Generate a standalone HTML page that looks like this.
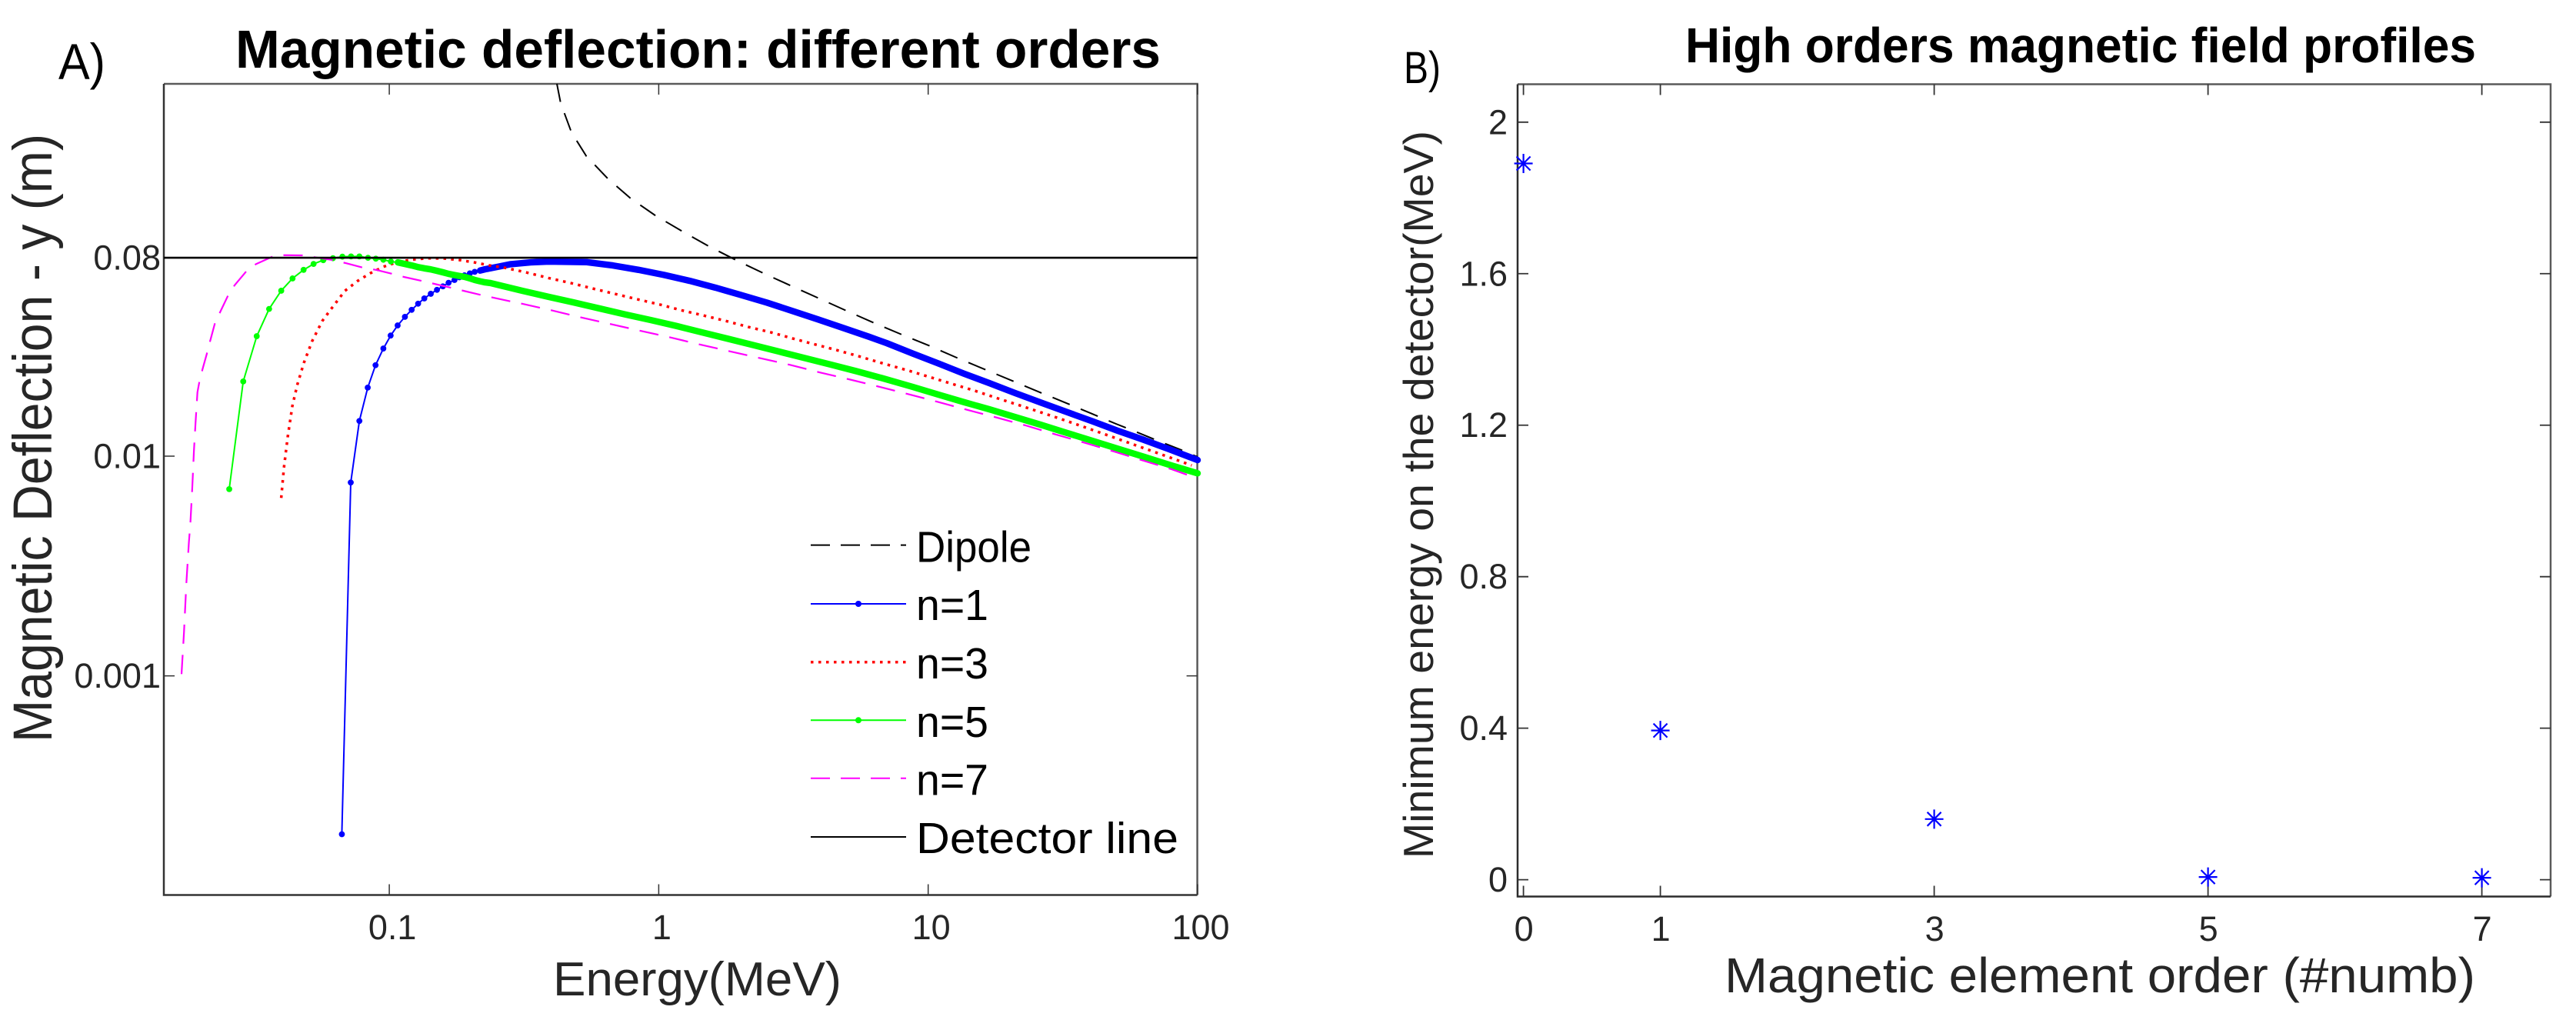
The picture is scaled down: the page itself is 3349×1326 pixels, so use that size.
<!DOCTYPE html>
<html lang="en">
<head>
<meta charset="utf-8">
<title>Magnetic deflection charts</title>
<style>
html,body{margin:0;padding:0;background:#fff;}
svg{display:block;}
text{font-family:"Liberation Sans",sans-serif;}
</style>
</head>
<body>
<svg id="fig" xmlns="http://www.w3.org/2000/svg" width="3349" height="1326" viewBox="0 0 3349 1326">
  <rect x="0" y="0" width="3349" height="1326" fill="#fff"/>

  <text x="76" y="103" font-size="66" fill="#000" textLength="61" lengthAdjust="spacingAndGlyphs">A)</text>
  <text x="306" y="88" font-size="70" font-weight="bold" fill="#000" textLength="1203" lengthAdjust="spacingAndGlyphs">Magnetic deflection: different orders</text>
  <text x="67" y="965" transform="rotate(-90 67 965)" font-size="71" fill="#262626" textLength="791" lengthAdjust="spacingAndGlyphs">Magnetic Deflection - y (m)</text>
  <text x="719" y="1294" font-size="62" fill="#262626" textLength="375" lengthAdjust="spacingAndGlyphs">Energy(MeV)</text>

  <text x="1825" y="108" font-size="58" fill="#000" textLength="48" lengthAdjust="spacingAndGlyphs">B)</text>
  <text x="2191" y="81" font-size="64" font-weight="bold" fill="#000" textLength="1028" lengthAdjust="spacingAndGlyphs">High orders magnetic field profiles</text>
  <text x="1863" y="1116" transform="rotate(-90 1863 1116)" font-size="55" fill="#262626" textLength="946" lengthAdjust="spacingAndGlyphs">Minimum energy on the detector(MeV)</text>
  <text x="2242" y="1290" font-size="64" fill="#262626" textLength="976" lengthAdjust="spacingAndGlyphs">Magnetic element order (#numb)</text>

  <g id="plotA"></g>
  <g id="plotB"></g>

  <g>
    <g>
      <line x1="1054" y1="708.6" x2="1178" y2="708.6" stroke="#000" stroke-width="2" stroke-dasharray="25 14"/>
      <text x="1191" y="730.6" font-size="57" fill="#000" textLength="150" lengthAdjust="spacingAndGlyphs">Dipole</text>
    </g>
    <g>
      <line x1="1054" y1="785" x2="1178" y2="785" stroke="#0000ff" stroke-width="2"/>
      <circle cx="1116" cy="785" r="4" fill="#0000ff"/>
      <text x="1191" y="806" font-size="57" fill="#000" textLength="94" lengthAdjust="spacingAndGlyphs">n=1</text>
    </g>
    <g>
      <line x1="1054" y1="860.8" x2="1178" y2="860.8" stroke="#ff0000" stroke-width="3.5" stroke-dasharray="3.5 6.5"/>
      <text x="1191" y="882" font-size="57" fill="#000" textLength="94" lengthAdjust="spacingAndGlyphs">n=3</text>
    </g>
    <g>
      <line x1="1054" y1="936.3" x2="1178" y2="936.3" stroke="#00ff00" stroke-width="2"/>
      <circle cx="1116" cy="936.3" r="4" fill="#00ff00"/>
      <text x="1191" y="958" font-size="57" fill="#000" textLength="94" lengthAdjust="spacingAndGlyphs">n=5</text>
    </g>
    <g>
      <line x1="1054" y1="1011.7" x2="1178" y2="1011.7" stroke="#ff00ff" stroke-width="2" stroke-dasharray="25 14"/>
      <text x="1191" y="1033.7" font-size="57" fill="#000" textLength="94" lengthAdjust="spacingAndGlyphs">n=7</text>
    </g>
    <g>
      <line x1="1054" y1="1088" x2="1178" y2="1088" stroke="#000" stroke-width="2"/>
      <text x="1191" y="1109" font-size="57" fill="#000" textLength="341" lengthAdjust="spacingAndGlyphs">Detector line</text>
    </g>
  </g>
</svg>

<script>
// Panel A: values are log10(energy / MeV) and log10(deflection / m).
const dipoleLogE = [-0.378,-0.364,-0.324,-0.269,-0.187,-0.104,-0.013,0.084,0.185,0.286,0.388,0.492,0.595,0.696,0.800,0.903,1.007,1.110,1.214,1.314,1.414,1.512,1.604,1.697,1.785,1.864,1.942,2.000];
const dipoleLogY = [-0.305,-0.393,-0.526,-0.634,-0.739,-0.827,-0.904,-0.974,-1.044,-1.107,-1.167,-1.225,-1.282,-1.338,-1.394,-1.447,-1.499,-1.554,-1.607,-1.658,-1.709,-1.758,-1.805,-1.853,-1.896,-1.936,-1.973,-2.004];

const n1LogE = [-1.176,-1.143,-1.111,-1.080,-1.051,-1.022,-0.995,-0.969,-0.942,-0.917,-0.893,-0.870,-0.846,-0.823,-0.801,-0.780,-0.758,-0.740,-0.721,-0.701,-0.683,-0.663,-0.644,-0.625,-0.589,-0.549,-0.475,-0.409,-0.267,-0.170,-0.075,0.019,0.115,0.210,0.304,0.401,0.496,0.590,0.686,0.781,0.847,0.943,1.038,1.132,1.228,1.323,1.418,1.514,1.609,1.703,1.799,1.894,2.000];
const n1LogY = [-3.721,-2.120,-1.840,-1.688,-1.586,-1.510,-1.451,-1.405,-1.366,-1.334,-1.306,-1.282,-1.261,-1.243,-1.227,-1.211,-1.198,-1.186,-1.177,-1.168,-1.161,-1.155,-1.149,-1.145,-1.136,-1.126,-1.118,-1.114,-1.117,-1.132,-1.152,-1.175,-1.202,-1.233,-1.266,-1.301,-1.339,-1.377,-1.417,-1.457,-1.486,-1.533,-1.578,-1.624,-1.668,-1.713,-1.756,-1.799,-1.841,-1.884,-1.925,-1.968,-2.018];

const n3LogE = [-1.401,-1.391,-1.377,-1.360,-1.341,-1.317,-1.287,-1.249,-1.217,-1.165,-1.117,-1.070,-1.022,-0.970,-0.913,-0.856,-0.798,-0.741,-0.684,-0.627,-0.570,-0.491,-0.409,-0.327,-0.245,-0.161,-0.079,0.004,0.085,0.167,0.251,0.333,0.415,0.496,0.578,0.660,0.742,0.824,0.931,1.012,1.094,1.175,1.256,1.337,1.417,1.498,1.578,1.657,1.737,1.817,1.897,1.978];
const n3LogY = [-2.190,-2.054,-1.914,-1.773,-1.674,-1.575,-1.478,-1.385,-1.332,-1.248,-1.202,-1.167,-1.138,-1.117,-1.105,-1.099,-1.100,-1.107,-1.118,-1.132,-1.143,-1.164,-1.189,-1.212,-1.237,-1.262,-1.286,-1.310,-1.336,-1.360,-1.385,-1.412,-1.436,-1.464,-1.491,-1.517,-1.545,-1.575,-1.612,-1.642,-1.673,-1.703,-1.736,-1.768,-1.800,-1.833,-1.867,-1.901,-1.936,-1.971,-2.006,-2.042];

const n5LogE = [-1.594,-1.542,-1.492,-1.446,-1.401,-1.359,-1.318,-1.281,-1.245,-1.209,-1.174,-1.142,-1.111,-1.079,-1.050,-1.022,-0.994,-0.968,-0.942,-0.917,-0.895,-0.870,-0.846,-0.824,-0.801,-0.780,-0.761,-0.740,-0.720,-0.701,-0.683,-0.663,-0.644,-0.625,-0.504,-0.409,-0.313,-0.218,-0.124,-0.028,0.067,0.162,0.258,0.353,0.447,0.543,0.638,0.733,0.829,0.943,1.038,1.132,1.228,1.323,1.418,1.514,1.609,1.703,1.799,1.894,2.000];
const n5LogY = [-2.150,-1.660,-1.454,-1.330,-1.247,-1.191,-1.152,-1.125,-1.108,-1.099,-1.092,-1.091,-1.091,-1.097,-1.101,-1.106,-1.114,-1.118,-1.125,-1.132,-1.139,-1.145,-1.150,-1.156,-1.163,-1.170,-1.175,-1.180,-1.184,-1.191,-1.198,-1.204,-1.209,-1.212,-1.248,-1.275,-1.301,-1.328,-1.355,-1.381,-1.408,-1.437,-1.466,-1.495,-1.524,-1.554,-1.583,-1.613,-1.645,-1.685,-1.720,-1.754,-1.787,-1.822,-1.857,-1.894,-1.930,-1.966,-2.002,-2.039,-2.078];

const n7LogE = [-1.771,-1.762,-1.753,-1.744,-1.738,-1.731,-1.725,-1.719,-1.712,-1.705,-1.693,-1.677,-1.665,-1.647,-1.628,-1.598,-1.574,-1.531,-1.495,-1.436,-1.389,-1.322,-1.265,-1.208,-1.160,-1.103,-1.046,-0.989,-0.946,-0.880,-0.770,-0.661,-0.551,-0.504,-0.396,-0.286,-0.175,-0.066,0.045,0.157,0.265,0.376,0.486,0.595,0.705,0.815,0.924,1.033,1.144,1.253,1.361,1.470,1.578,1.687,1.795,1.904,1.968];
const n7LogY = [-2.992,-2.802,-2.577,-2.396,-2.299,-2.141,-1.978,-1.849,-1.709,-1.663,-1.604,-1.534,-1.476,-1.394,-1.345,-1.268,-1.222,-1.159,-1.126,-1.093,-1.085,-1.086,-1.097,-1.108,-1.122,-1.140,-1.153,-1.170,-1.184,-1.202,-1.234,-1.266,-1.295,-1.307,-1.337,-1.369,-1.400,-1.430,-1.460,-1.493,-1.523,-1.554,-1.584,-1.618,-1.650,-1.683,-1.717,-1.752,-1.789,-1.824,-1.860,-1.900,-1.938,-1.978,-2.019,-2.060,-2.088];

const detectorLevel = [0.08];
const xTicksA = [0.1, 1, 10, 100];
const xTickLabelsA = ["0.1", "1", "10", "100"];
const yTicksA = [0.08, 0.01, 0.001];
const yTickLabelsA = ["0.08", "0.01", "0.001"];

// Panel B
const orders = [0, 1, 3, 5, 7];
const minEnergy = [1.891, 0.394, 0.16, 0.007, 0.005];
const xTickLabelsB = ["0", "1", "3", "5", "7"];
const yTicksB = [2, 1.6, 1.2, 0.8, 0.4, 0];
const yTickLabelsB = ["2", "1.6", "1.2", "0.8", "0.4", "0"];

const NS = "http://www.w3.org/2000/svg";
const boxA = {l: 213, r: 1556.6, t: 109, b: 1163.5};
const boxB = {l: 1973, r: 3316, t: 109.5, b: 1165.5};
const TICK = 14;

function xLogA(logE) { return 856.4 + 350.3 * logE; }
function yLogA(logY) { return 593 - 285.6 * (logY + 2); }
function xB(v) { return 1980.6 + 178 * v; }
function yB(v) { return 1143.6 - 492.4 * v; }

function mk(parent, tag, attrs, txt) {
  const e = document.createElementNS(NS, tag);
  for (const k in attrs) e.setAttribute(k, attrs[k]);
  if (txt !== undefined) e.textContent = txt;
  parent.appendChild(e);
  return e;
}
function pts(xs, ys) {
  return xs.map((v, i) => xLogA(v).toFixed(1) + "," + yLogA(ys[i]).toFixed(1)).join(" ");
}

const gA = document.getElementById("plotA");
const gB = document.getElementById("plotB");

function drawThin(parent, xs, ys, color, width, dash) {
  const attrs = {points: pts(xs, ys), fill: "none", stroke: color, "stroke-width": width, "stroke-linejoin": "round"};
  if (dash) attrs["stroke-dasharray"] = dash;
  return mk(parent, "polyline", attrs);
}

// Spines and ticks, panel A
function frame(g, box, col) {
  const r = mk(g, "path", {d: `M${box.l} ${box.t}H${box.r}V${box.b}`, fill: "none", stroke: "#5a5a5a", "stroke-width": 2.5});
  
  
  const s = mk(g, "path", {d: `M${box.l} ${box.t}V${box.b}H${box.r}`, fill: "none", stroke: col, "stroke-width": 2.5});
  
  
}
frame(gA, boxA, "#333");

xTicksA.forEach((v, i) => {
  const x = xLogA(Math.log10(v));
  const b = mk(gA, "path", {d: `M${x} ${boxA.b}v${-TICK}M${x} ${boxA.t}v${TICK}`, stroke: "#333", "stroke-width": 1.5, fill: "none"});
  
  
  const t = mk(gA, "text", {x: x + 4, y: 1221, "font-size": 45, fill: "#262626", "text-anchor": "middle"}, xTickLabelsA[i]);
  
  
});
yTicksA.forEach((v, i) => {
  const y = yLogA(Math.log10(v));
  const b = mk(gA, "path", {d: `M${boxA.l} ${y}h${TICK}M${boxA.r} ${y}h${-TICK}`, stroke: "#333", "stroke-width": 1.5, fill: "none"});
  
  
  const t = mk(gA, "text", {x: 209, y: y + 15.5, "font-size": 45, fill: "#262626", "text-anchor": "end"}, yTickLabelsA[i]);
  
  
});

// Dipole
const dipoleLine = drawThin(gA, dipoleLogE, dipoleLogY, "#000", 2, "24 15.5");



// Marked series: thin line, one dot per point, and a solid band where dots merge
function drawMarked(xs, ys, color, mergedFromLogE) {
  const g = mk(gA, "g", {});
  drawThin(g, xs, ys, color, 2);
  const mx = xs.filter(v => v >= mergedFromLogE);
  const my = ys.filter((v, i) => xs[i] >= mergedFromLogE);
  mk(g, "polyline", {points: pts(mx, my), fill: "none", stroke: color, "stroke-width": 8.4, "stroke-linejoin": "round", "stroke-linecap": "round"});
  xs.forEach((v, i) => {
    const c = mk(g, "circle", {cx: xLogA(v), cy: yLogA(ys[i]), r: 3.9, fill: color});
    
    
  });
  return g;
}

const n1Group = drawMarked(n1LogE, n1LogY, "#0000ff", -0.68);



const n3Line = drawThin(gA, n3LogE, n3LogY, "#ff0000", 3.5, "3.5 6.4");



const n5Group = drawMarked(n5LogE, n5LogY, "#00ff00", -0.98);



const n7Line = drawThin(gA, n7LogE, n7LogY, "#ff00ff", 2.2, "25 14.5");



const detY = yLogA(Math.log10(detectorLevel[0]));
const detLine = mk(gA, "line", {x1: boxA.l, x2: boxA.r, y1: detY, y2: detY, stroke: "#000", "stroke-width": 2.6});



// Panel B
frame(gB, boxB, "#2c2c2c");
orders.forEach((v, i) => {
  const x = xB(v);
  const b = mk(gB, "path", {d: `M${x} ${boxB.b}v${-TICK}M${x} ${boxB.t}v${TICK}`, stroke: "#333", "stroke-width": 1.8, fill: "none"});
  
  
  const t = mk(gB, "text", {x: x + 0.5, y: 1223, "font-size": 45, fill: "#262626", "text-anchor": "middle"}, xTickLabelsB[i]);
  
  
});
yTicksB.forEach((v, i) => {
  const y = yB(v);
  const b = mk(gB, "path", {d: `M${boxB.l} ${y}h${TICK}M${boxB.r} ${y}h${-TICK}`, stroke: "#333", "stroke-width": 1.8, fill: "none"});
  
  
  const t = mk(gB, "text", {x: 1960, y: y + 15.5, "font-size": 45, fill: "#262626", "text-anchor": "end"}, yTickLabelsB[i]);
  
  
});
orders.forEach((v, i) => {
  const cx = xB(v), cy = yB(minEnergy[i]);
  const star = mk(gB, "path", {d: `M${cx} ${cy - 12.5}V${cy + 12.5}M${cx - 12} ${cy}H${cx + 12}M${cx - 9} ${cy - 9}L${cx + 9} ${cy + 9}M${cx - 9} ${cy + 9}L${cx + 9} ${cy - 9}`, stroke: "#0000ff", "stroke-width": 2.2, fill: "none"});
  
  
});
</script>
</body>
</html>
